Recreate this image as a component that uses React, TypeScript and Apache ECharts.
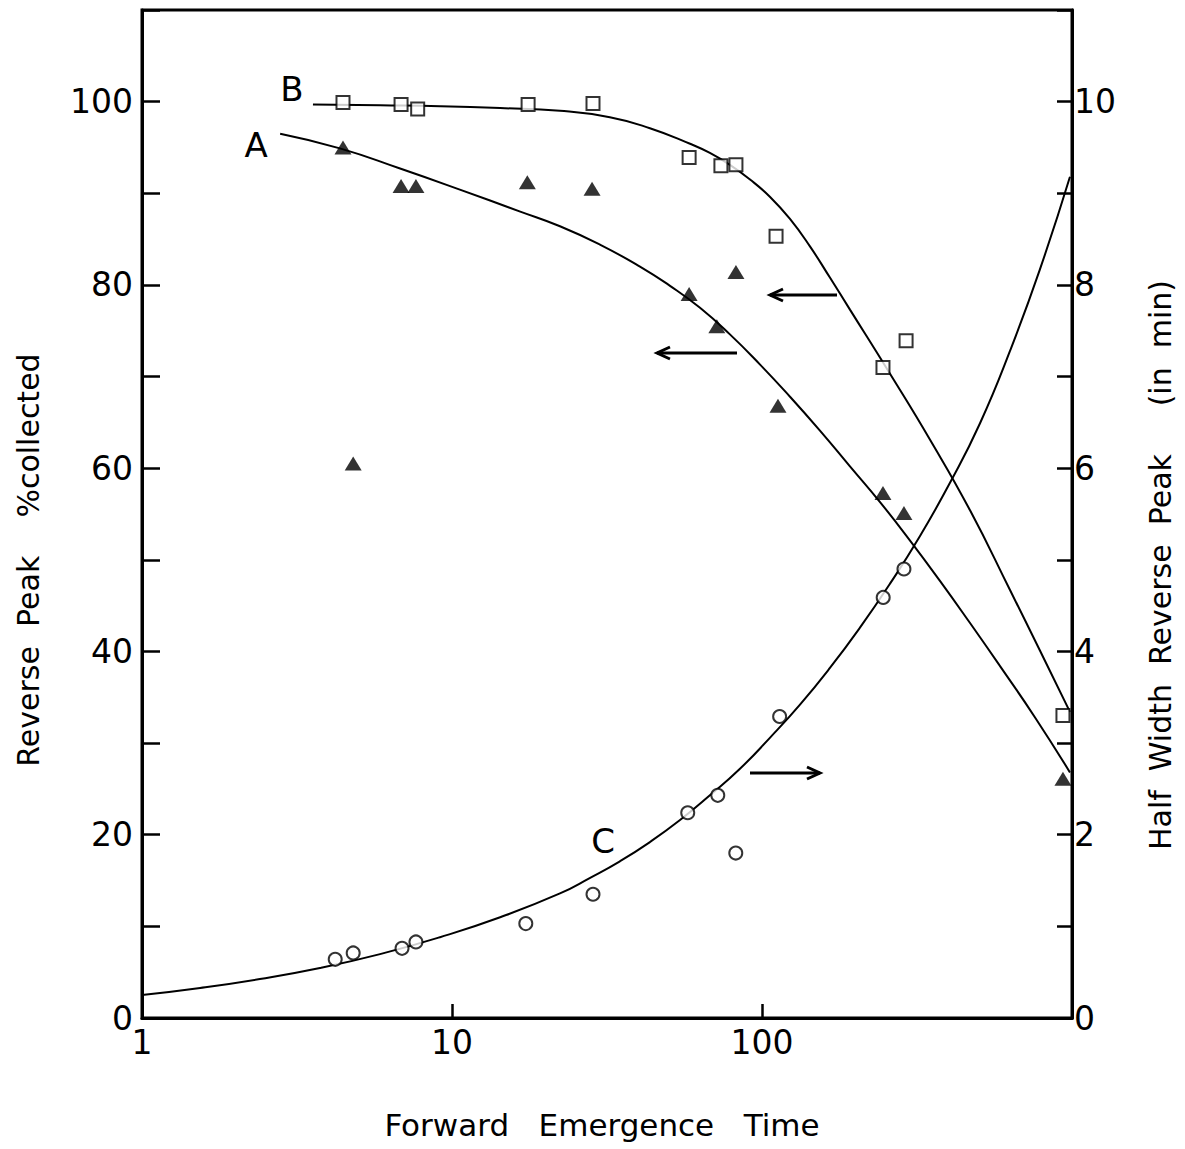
import React, { useEffect, useRef } from 'react';
import * as echarts from 'echarts';

// Forward emergence time (x, log scale) for each data series
const timesA = [4.45, 4.8, 6.85, 7.65, 17.5, 28.3, 58.2, 71.5, 82.4, 112.6, 245.6, 287, 935];
const valuesA = [95.0, 60.5, 90.8, 90.8, 91.2, 90.5, 79.0, 75.5, 81.4, 66.8, 57.3, 55.1, 26.1];

const timesB = [4.45, 6.85, 7.75, 17.6, 28.5, 58.2, 73.7, 82.4, 111, 245.6, 291.6, 935];
const valuesB = [99.9, 99.7, 99.2, 99.7, 99.8, 93.9, 93.0, 93.1, 85.3, 71.0, 73.9, 33.0];

const timesC = [4.2, 4.8, 6.9, 7.65, 17.3, 28.5, 57.6, 72, 82.3, 114, 246, 287];
const valuesC = [0.64, 0.71, 0.76, 0.83, 1.03, 1.35, 2.24, 2.43, 1.8, 3.29, 4.59, 4.9];

// Fitted curves
const curveAX = [2.79, 4.35, 6.8, 10.6, 16.6, 22.3, 30.0, 40.4, 50.5, 63.1, 78.8, 98.6, 123.1, 153.8, 192.2, 240.3, 300.3, 375, 468.9, 586, 760, 985];
const curveAY = [96.5, 94.9, 92.7, 90.4, 88.0, 86.4, 84.4, 82.0, 79.9, 77.5, 74.6, 71.3, 67.8, 64.1, 60.2, 56.3, 52.1, 47.7, 43.1, 38.4, 32.8, 26.8];

const curveBX = [3.56, 5.86, 9.15, 14.3, 22.3, 32.3, 43.5, 58.6, 67.9, 78.8, 91.5, 106.2, 123.1, 142.8, 165.6, 192.2, 258.8, 348.4, 468.9, 631, 788, 985];
const curveBY = [99.7, 99.6, 99.5, 99.3, 99.0, 98.3, 97.1, 95.4, 94.4, 93.1, 91.5, 89.6, 87.2, 84.2, 80.8, 77.3, 70.3, 63.1, 55.4, 46.7, 40.1, 33.4];

const curveCX = [1, 1.54, 2.4, 3.75, 5.86, 9.15, 14.3, 22.3, 27.9, 34.8, 43.5, 54.4, 67.9, 84.9, 106.2, 132.6, 165.6, 207, 258.8, 323.4, 404, 505, 631, 788, 985];
const curveCY = [0.25, 0.327, 0.425, 0.545, 0.697, 0.882, 1.1, 1.36, 1.53, 1.71, 1.92, 2.16, 2.43, 2.72, 3.06, 3.42, 3.82, 4.26, 4.74, 5.26, 5.84, 6.49, 7.28, 8.17, 9.18];

const xTicks = [1, 10, 100];
const leftLabels = [0, 20, 40, 60, 80, 100];
const rightLabels = [0, 2, 4, 6, 8, 10];

const FONT = 'DejaVu Sans';

const zip = (xs: number[], ys: number[]) => xs.map((x, i) => [x, ys[i]]);

const arrow = (x1: number, x2: number, y: number) => {
  const dir = x2 > x1 ? 1 : -1;
  return {
    type: 'group',
    children: [
      { type: 'line', shape: { x1, y1: y, x2, y2: y }, style: { stroke: '#000', lineWidth: 3 } },
      {
        type: 'polyline',
        shape: { points: [[x2 - dir * 13, y - 6], [x2, y], [x2 - dir * 13, y + 6]] },
        style: { stroke: '#000', lineWidth: 3, fill: 'none' },
      },
    ],
  };
};

export default function App() {
  const ref = useRef<HTMLDivElement>(null);
  useEffect(() => {
    const chart = echarts.init(ref.current!, null, { renderer: 'svg' });
    const labelStyle = { color: '#000', fontSize: 33, fontFamily: FONT };
    const curveStyle = {
      type: 'line', smooth: 0.5, showSymbol: false, symbol: 'none',
      lineStyle: { color: '#000', width: 2 }, z: 2,
    };
    chart.setOption({
      animation: false,
      backgroundColor: '#fff',
      grid: { left: 142, right: 113, top: 10, bottom: 131, show: true, borderColor: '#000', borderWidth: 3 },
      xAxis: {
        type: 'log',
        logBase: 10,
        min: 1,
        max: 1000,
        axisLine: { lineStyle: { color: '#000', width: 3 } },
        axisTick: { inside: true, length: 14, lineStyle: { color: '#000', width: 2.5 } },
        minorTick: { show: false },
        splitLine: { show: false },
        axisLabel: {
          ...labelStyle,
          margin: 8,
          formatter: (v: number) => (xTicks.includes(Math.round(v)) ? String(Math.round(v)) : ''),
        },
      },
      yAxis: [
        {
          type: 'value',
          position: 'left',
          min: 0,
          max: 110,
          interval: 10,
          axisLine: { show: true, lineStyle: { color: '#000', width: 3 } },
          axisTick: { show: true, inside: true, length: 18, lineStyle: { color: '#000', width: 2.5 } },
          splitLine: { show: false },
          axisLabel: {
            ...labelStyle,
            margin: 9,
            formatter: (v: number) => (leftLabels.includes(v) ? String(v) : ''),
          },
        },
        {
          type: 'value',
          position: 'right',
          min: 0,
          max: 11,
          interval: 1,
          axisLine: { show: true, lineStyle: { color: '#000', width: 3 } },
          axisTick: { show: true, inside: true, length: 15, lineStyle: { color: '#000', width: 2.5 } },
          splitLine: { show: false },
          axisLabel: {
            ...labelStyle,
            margin: 2,
            formatter: (v: number) => (rightLabels.includes(v) ? String(v) : ''),
          },
        },
      ],
      series: [
        { ...curveStyle, name: 'curveA', yAxisIndex: 0, data: zip(curveAX, curveAY) },
        { ...curveStyle, name: 'curveB', yAxisIndex: 0, data: zip(curveBX, curveBY) },
        { ...curveStyle, name: 'curveC', yAxisIndex: 1, data: zip(curveCX, curveCY) },
        {
          type: 'scatter', name: 'A', yAxisIndex: 0, data: zip(timesA, valuesA), symbol: 'triangle',
          symbolSize: [17, 14], itemStyle: { color: '#000' }, z: 3,
        },
        {
          type: 'scatter', name: 'B', yAxisIndex: 0, data: zip(timesB, valuesB), symbol: 'rect',
          symbolSize: 13, itemStyle: { color: '#fff', borderColor: '#000', borderWidth: 2 }, z: 3,
        },
        {
          type: 'scatter', name: 'C', yAxisIndex: 1, data: zip(timesC, valuesC), symbol: 'circle',
          symbolSize: 13, itemStyle: { color: '#fff', borderColor: '#000', borderWidth: 2 }, z: 3,
        },
      ],
      graphic: [
        { type: 'text', x: 292, y: 89, style: { text: 'B', font: `34px "${FONT}"`, fill: '#000', textAlign: 'center', textVerticalAlign: 'middle' } },
        { type: 'text', x: 256, y: 145, style: { text: 'A', font: `34px "${FONT}"`, fill: '#000', textAlign: 'center', textVerticalAlign: 'middle' } },
        { type: 'text', x: 603, y: 841, style: { text: 'C', font: `34px "${FONT}"`, fill: '#000', textAlign: 'center', textVerticalAlign: 'middle' } },
        arrow(837, 770, 295),
        arrow(737, 657, 353),
        arrow(750, 820, 773),
        {
          type: 'text', x: 602, y: 1125,
          style: { text: 'Forward   Emergence   Time', font: `31px "${FONT}"`, fill: '#000', textAlign: 'center', textVerticalAlign: 'middle' },
        },
        {
          type: 'text', x: 28, y: 560, rotation: Math.PI / 2,
          style: { text: 'Reverse  Peak    %collected', font: `30px "${FONT}"`, fill: '#000', textAlign: 'center', textVerticalAlign: 'middle' },
        },
        {
          type: 'text', x: 1160, y: 565, rotation: Math.PI / 2,
          style: { text: 'Half  Width  Reverse  Peak     (in  min)', font: `30px "${FONT}"`, fill: '#000', textAlign: 'center', textVerticalAlign: 'middle' },
        },
      ],
    });
    return () => chart.dispose();
  }, []);
  return (
    <div
      ref={ref}
      style={{ position: 'absolute', left: 0, top: 0, width: 1185, height: 1149, background: '#fff' }}
    />
  );
}
